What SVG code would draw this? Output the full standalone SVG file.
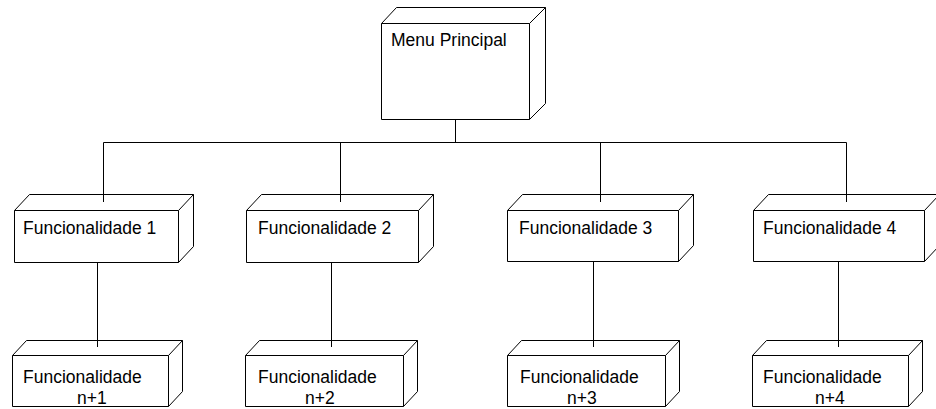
<svg xmlns="http://www.w3.org/2000/svg" width="936" height="409" viewBox="0 0 936 409">
  <style>
    .face { fill: #ffffff; stroke: #000000; stroke-width: 1; stroke-linejoin: miter; }
    .wire { fill: none; stroke: #000000; stroke-width: 1; }
    .lbl { font-family: "Liberation Sans", Arial, sans-serif; font-size: 17.5px; fill: #000000; }
  </style>
  <rect x="0" y="0" width="936" height="409" fill="#ffffff"/>

  <!-- connectors: drawn first so box top faces sit over their ends -->
  <g id="connectors">
    <path class="wire" d="M455.5 119.5 V142.5"/>
    <path class="wire" d="M103.5 142.5 H846.5"/>
    <path class="wire" d="M103.5 142.5 V202"/>
    <path class="wire" d="M340.5 142.5 V202"/>
    <path class="wire" d="M600.5 142.5 V202"/>
    <path class="wire" d="M846.5 142.5 V202"/>
    <path class="wire" d="M97.5 262 V347"/>
    <path class="wire" d="M331.5 262 V347"/>
    <path class="wire" d="M593.5 262 V347"/>
    <path class="wire" d="M838.5 262 V347"/>
  </g>

  <!-- main menu box -->
  <g id="menu-principal">
    <path class="face" d="M381.5 23.5 L396.5 7.5 H545.5 V103.5 L529.5 119.5 H381.5 Z"/>
    <path class="wire" d="M529.5 23.5 L545.5 7.5 M381.5 23.5 H529.5 V119.5"/>
    <text class="lbl" x="391" y="46">Menu Principal</text>
  </g>

  <!-- first level: front y=210, h=52, depth 15/16 -->
  <g id="func-1">
    <path class="face" d="M14.5 210.5 L29.5 194.5 H193.5 V246.5 L178.5 262.5 H14.5 Z"/>
    <path class="wire" d="M14.5 210.5 H178.5 V262.5 M178.5 210.5 L193.5 194.5"/>
    <path class="wire" d="M103.5 194.5 V202"/>
    <text class="lbl" x="23" y="234">Funcionalidade 1</text>
  </g>
  <g id="func-2">
    <path class="face" d="M246.5 210.5 L261.5 194.5 H433.5 V246.5 L418.5 262.5 H246.5 Z"/>
    <path class="wire" d="M246.5 210.5 H418.5 V262.5 M418.5 210.5 L433.5 194.5"/>
    <path class="wire" d="M340.5 194.5 V202"/>
    <text class="lbl" x="258" y="234">Funcionalidade 2</text>
  </g>
  <g id="func-3">
    <path class="face" d="M507.5 210.5 L522.5 194.5 H693.5 V245.5 L678.5 261.5 H507.5 Z"/>
    <path class="wire" d="M507.5 210.5 H678.5 V261.5 M678.5 210.5 L693.5 194.5"/>
    <path class="wire" d="M600.5 194.5 V202"/>
    <text class="lbl" x="519" y="234">Funcionalidade 3</text>
  </g>
  <g id="func-4">
    <path class="face" d="M753.5 210.5 L768.5 194.5 H939.5 V245.5 L924.5 261.5 H753.5 Z"/>
    <path class="wire" d="M753.5 210.5 H924.5 V261.5 M924.5 210.5 L939.5 194.5"/>
    <path class="wire" d="M846.5 194.5 V202"/>
    <text class="lbl" x="763" y="234">Funcionalidade 4</text>
  </g>

  <!-- second level: front y=355, h=52, depth 14/15 -->
  <g id="func-n1">
    <path class="face" d="M12.5 355.5 L26.5 340.5 H182.5 V391.5 L168.5 406.5 H12.5 Z"/>
    <path class="wire" d="M12.5 355.5 H168.5 V406.5 M168.5 355.5 L182.5 340.5"/>
    <path class="wire" d="M97.5 340.5 V347"/>
    <text class="lbl" x="23" y="383">Funcionalidade</text>
    <text class="lbl" x="77" y="404">n+1</text>
  </g>
  <g id="func-n2">
    <path class="face" d="M245.5 355.5 L259.5 340.5 H417.5 V391.5 L403.5 406.5 H245.5 Z"/>
    <path class="wire" d="M245.5 355.5 H403.5 V406.5 M403.5 355.5 L417.5 340.5"/>
    <path class="wire" d="M331.5 340.5 V347"/>
    <text class="lbl" x="258" y="383">Funcionalidade</text>
    <text class="lbl" x="305" y="404">n+2</text>
  </g>
  <g id="func-n3">
    <path class="face" d="M507.5 355.5 L521.5 340.5 H679.5 V391.5 L665.5 406.5 H507.5 Z"/>
    <path class="wire" d="M507.5 355.5 H665.5 V406.5 M665.5 355.5 L679.5 340.5"/>
    <path class="wire" d="M593.5 340.5 V347"/>
    <text class="lbl" x="520" y="383">Funcionalidade</text>
    <text class="lbl" x="567" y="404">n+3</text>
  </g>
  <g id="func-n4">
    <path class="face" d="M752.5 355.5 L766.5 340.5 H922.5 V391.5 L908.5 406.5 H752.5 Z"/>
    <path class="wire" d="M752.5 355.5 H908.5 V406.5 M908.5 355.5 L922.5 340.5"/>
    <path class="wire" d="M838.5 340.5 V347"/>
    <text class="lbl" x="763" y="383">Funcionalidade</text>
    <text class="lbl" x="815" y="404">n+4</text>
  </g>
</svg>
